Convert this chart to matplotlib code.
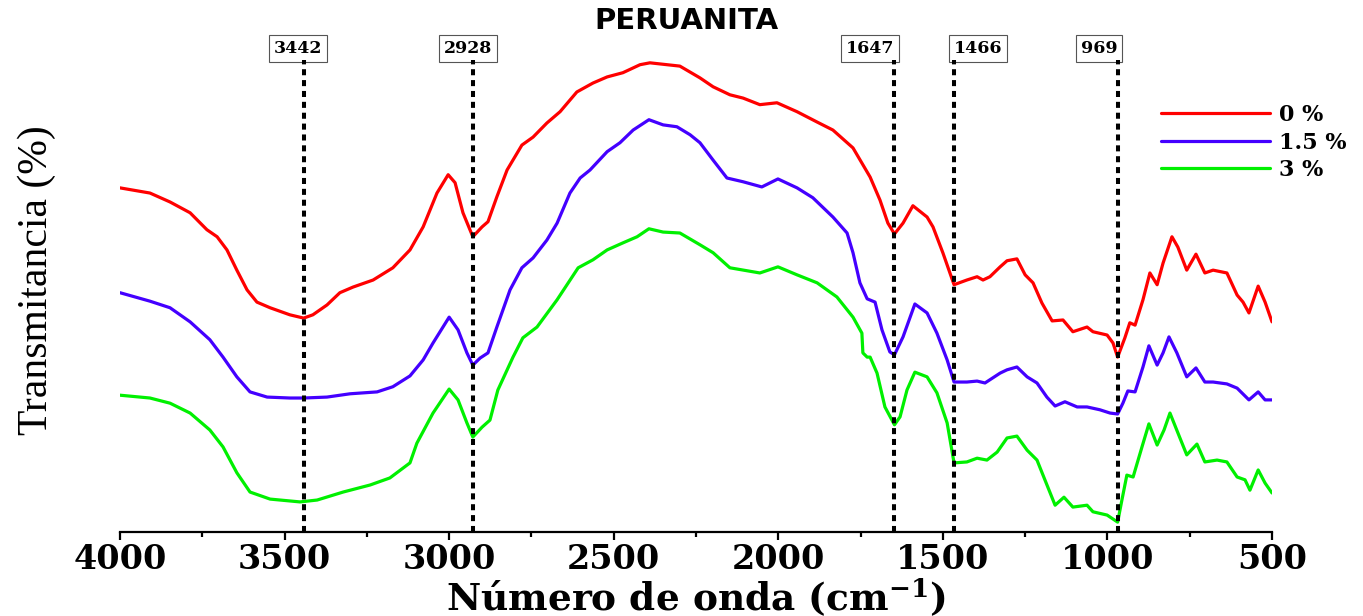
import matplotlib
matplotlib.use("Agg")
import matplotlib.pyplot as plt

# ---------------- data ----------------
title = "PERUANITA"
series_labels = ["0 %", "1.5 %", "3 %"]
series_colors = ["#FF0000", "#4400FF", "#00F000"]

wn_0 = [4000, 3909, 3848, 3787, 3736, 3705, 3675, 3645, 3614, 3584, 3544, 3484, 3442, 3414, 3371,
        3332, 3292, 3231, 3171, 3119, 3079, 3037, 3003, 2982, 2958, 2928, 2900, 2882, 2855, 2824,
        2779, 2745, 2703, 2663, 2612, 2563, 2520, 2472, 2420, 2390, 2338, 2299, 2238, 2198, 2147,
        2107, 2056, 2004, 1943, 1882, 1834, 1773, 1721, 1691, 1667, 1647, 1621, 1591, 1548, 1530,
        1500, 1466, 1427, 1396, 1378, 1357, 1326, 1305, 1275, 1250, 1226, 1199, 1168, 1135, 1105,
        1062, 1044, 1001, 983, 969, 947, 932, 916, 892, 871, 849, 831, 804, 786, 759,
        731, 704, 679, 637, 606, 588, 570, 542, 521, 500]
t_0 = [73.2, 72.1, 70.2, 67.9, 64.3, 62.8, 60.0, 55.7, 51.5, 48.9, 47.7, 46.2, 45.5, 46.2, 48.3,
       50.9, 52.1, 53.6, 56.2, 60.0, 64.9, 72.1, 76.0, 74.3, 67.9, 62.8, 64.9, 66.0, 71.3, 77.0,
       82.3, 84.0, 87.0, 89.4, 93.6, 95.5, 96.8, 97.7, 99.4, 99.8, 99.4, 99.1, 96.6, 94.7, 93.0,
       92.3, 90.9, 91.3, 89.4, 87.2, 85.5, 81.7, 75.5, 70.6, 65.7, 63.4, 65.7, 69.4, 67.0, 64.9,
       59.4, 52.6, 53.6, 54.3, 53.6, 54.3, 56.4, 57.7, 58.1, 54.7, 53.0, 48.7, 44.9, 45.1, 42.6,
       43.6, 42.6, 41.9, 40.2, 37.2, 41.3, 44.5, 44.0, 49.4, 55.1, 52.6, 57.2, 62.8, 60.6, 55.7,
       59.1, 55.1, 55.7, 55.1, 50.4, 48.9, 46.6, 52.3, 48.9, 44.7]

wn_15 = [4000, 3909, 3848, 3787, 3727, 3687, 3645, 3605, 3553, 3484, 3442, 3371, 3301, 3219, 3171,
         3119, 3079, 3049, 3000, 2973, 2946, 2928, 2906, 2882, 2855, 2815, 2779, 2745, 2703, 2672,
         2633, 2602, 2572, 2520, 2481, 2441, 2393, 2350, 2308, 2268, 2238, 2198, 2156, 2107, 2050,
         2001, 1943, 1895, 1834, 1791, 1773, 1752, 1730, 1706, 1685, 1661, 1647, 1621, 1585, 1548,
         1518, 1487, 1466, 1427, 1396, 1372, 1326, 1305, 1275, 1244, 1214, 1184, 1159, 1129, 1092,
         1062, 1023, 992, 969, 953, 938, 916, 892, 874, 849, 831, 813, 789, 759, 731,
         704, 679, 637, 606, 570, 542, 521, 500]
t_15 = [50.9, 49.1, 47.7, 44.7, 40.9, 37.2, 33.0, 29.8, 28.7, 28.5, 28.5, 28.7, 29.4, 29.8, 30.9,
        33.2, 36.6, 40.2, 45.7, 43.0, 38.1, 35.5, 37.0, 38.1, 43.6, 51.5, 56.2, 58.3, 62.1, 65.7,
        72.1, 75.3, 77.0, 80.9, 82.8, 85.5, 87.7, 86.6, 86.2, 84.5, 82.8, 79.1, 75.3, 74.5, 73.4,
        75.1, 73.2, 71.1, 67.0, 63.6, 59.4, 53.0, 49.6, 48.9, 43.0, 38.3, 37.7, 41.5, 48.5, 46.6,
        42.3, 36.6, 31.9, 31.9, 32.1, 31.7, 33.8, 34.5, 35.1, 33.0, 31.7, 28.7, 26.8, 27.7, 26.6,
        26.6, 26.0, 25.3, 25.1, 27.4, 30.0, 29.8, 35.1, 39.6, 35.5, 38.1, 41.5, 38.1, 33.0, 34.9,
        31.9, 31.9, 31.5, 30.6, 28.1, 29.8, 28.1, 28.1]

wn_3 = [4000, 3909, 3848, 3787, 3727, 3687, 3645, 3605, 3544, 3453, 3401, 3322, 3240, 3180, 3119,
        3098, 3049, 3000, 2973, 2946, 2928, 2900, 2876, 2852, 2806, 2776, 2733, 2672, 2608, 2563,
        2520, 2472, 2429, 2393, 2350, 2299, 2238, 2198, 2147, 2056, 2001, 1943, 1882, 1822, 1773,
        1746, 1743, 1730, 1721, 1700, 1676, 1647, 1630, 1609, 1585, 1548, 1518, 1487, 1466, 1427,
        1396, 1366, 1335, 1305, 1275, 1244, 1214, 1190, 1159, 1132, 1105, 1062, 1044, 1001, 969,
        956, 941, 922, 895, 874, 849, 828, 810, 786, 759, 728, 704, 667, 637, 606,
        582, 567, 542, 521, 500]
t_3 = [29.1, 28.5, 27.4, 25.3, 21.7, 18.1, 12.6, 8.5, 7.0, 6.4, 6.8, 8.5, 10.0, 11.5, 14.7,
       18.9, 25.3, 30.4, 28.1, 23.2, 20.2, 22.3, 23.8, 30.2, 37.2, 41.3, 43.6, 49.4, 56.2, 57.9,
       60.0, 61.5, 62.8, 64.5, 63.8, 63.6, 61.1, 59.4, 56.2, 55.1, 56.4, 54.7, 53.0, 50.0, 45.7,
       42.3, 38.1, 37.2, 37.2, 33.8, 26.6, 22.8, 24.5, 30.2, 34.0, 33.0, 29.6, 23.2, 14.7, 14.9,
       15.7, 15.3, 17.0, 20.0, 20.4, 17.4, 15.3, 11.1, 5.7, 7.4, 5.3, 5.7, 4.3, 3.6, 2.1,
       6.8, 12.1, 11.7, 18.1, 23.0, 18.5, 21.7, 25.3, 21.1, 16.4, 18.7, 14.9, 15.3, 14.9, 11.7,
       11.1, 8.9, 13.2, 10.4, 8.3]

peak_positions = [3442, 2928, 1647, 1466, 969]
peak_labels = ["3442", "2928", "1647", "1466", "969"]

xticks_major = [4000, 3500, 3000, 2500, 2000, 1500, 1000, 500]
xtick_labels = ["4000", "3500", "3000", "2500", "2000", "1500", "1000", "500"]
xticks_minor = [3750, 3250, 2750, 2250, 1750, 1250, 750]

xlabel = r"Número de onda (cm$^{\mathbf{-1}}$)"
ylabel = "Transmitancia (%)"

# ---------------- figure ----------------
plt.rcParams["mathtext.fontset"] = "dejavuserif"
W, H = 1363, 616
fig = plt.figure(figsize=(W / 100, H / 100), dpi=100)
ax = fig.add_axes([120 / W, 1 - 532 / H, (1272 - 120) / W, (532 - 60) / H])

for wn, t, lab, col in zip([wn_0, wn_15, wn_3], [t_0, t_15, t_3], series_labels, series_colors):
    ax.plot(wn, t, color=col, lw=2.3, label=lab, solid_joinstyle="round", solid_capstyle="round")

for pos in peak_positions:
    ax.axvline(pos, color="black", lw=2.9, linestyle=(0, (1.5, 1.2)), zorder=5)

ax.set_xlim(4000, 500)
ax.set_ylim(0, 100.4)

for s in ["left", "right", "top"]:
    ax.spines[s].set_visible(False)
ax.spines["bottom"].set_linewidth(1.6)
ax.set_yticks([])
ax.set_xticks(xticks_major)
ax.set_xticklabels(xtick_labels, fontfamily="DejaVu Serif", fontweight="bold", fontsize=24)
ax.set_xticks(xticks_minor, minor=True)
ax.tick_params(axis="x", which="major", direction="out", length=6, width=1.6, pad=2)
ax.tick_params(axis="x", which="minor", direction="out", length=3.5, width=1.6)

ax.set_xlabel(xlabel, fontfamily="DejaVu Serif", fontweight="bold", fontsize=27, labelpad=0)
fig.text(37 / W, 1 - 280 / H, ylabel, rotation=90, ha="center", va="center",
         fontfamily="Liberation Serif", fontsize=30)
fig.text(686 / W, 1 - 21 / H, title, ha="center", va="center",
         fontfamily="DejaVu Sans", fontweight="bold", fontsize=21)

# peak labels in boxes above the dotted lines
aligns = ["center", "center", "right", "left", "right"]
shifts = [17, 15, 0, 0, 0]
for pos, lab, ha, sh in zip(peak_positions, peak_labels, aligns, shifts):
    ax.text(pos + sh, 101.0, lab, ha=ha, va="bottom", fontfamily="DejaVu Serif",
            fontweight="bold", fontsize=12.5, clip_on=False,
            bbox=dict(boxstyle="square,pad=0.28", fc="white", ec="#555555", lw=0.8))

leg = ax.legend(loc="upper left", bbox_to_anchor=(1161 / W, 1 - 104 / H),
                bbox_transform=fig.transFigure, frameon=False, borderpad=0,
                borderaxespad=0, handlelength=4.9, handletextpad=0.4, labelspacing=0.25,
                prop={"family": "DejaVu Serif", "weight": "bold", "size": 16})

fig.savefig("out.png", dpi=100)
